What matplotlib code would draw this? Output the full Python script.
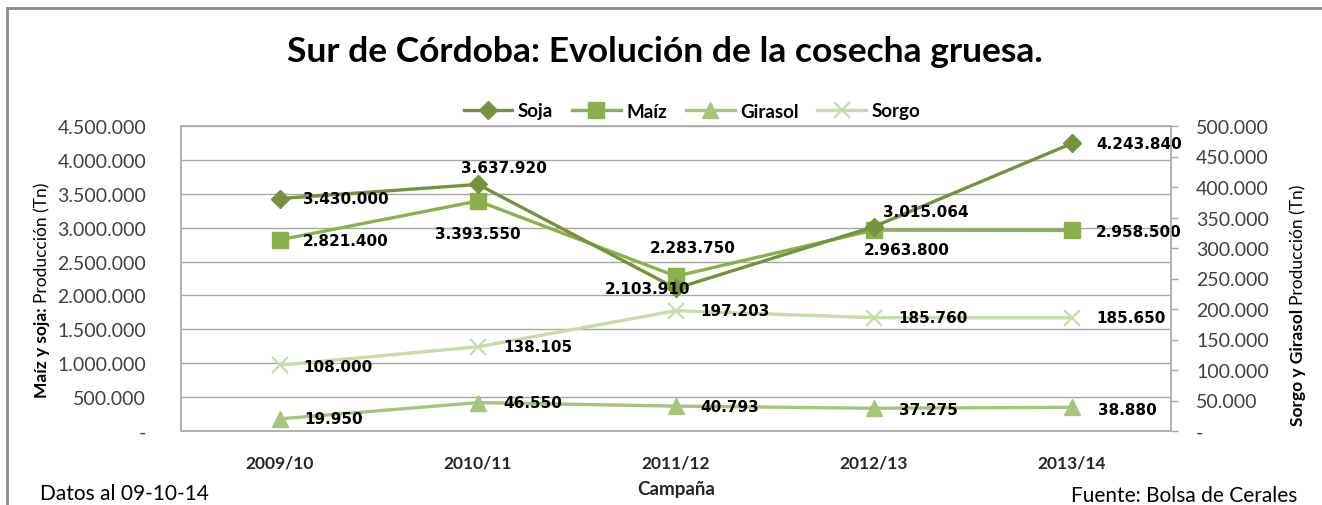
import matplotlib
matplotlib.use("Agg")
import matplotlib.pyplot as plt
from matplotlib.ticker import FuncFormatter, MultipleLocator
from matplotlib.patches import Rectangle

# =========================================================
# DATA
# =========================================================

campanas = ["2009/10", "2010/11", "2011/12", "2012/13", "2013/14"]

soja = [3430000, 3637920, 2103910, 3015064, 4243840]
maiz = [2821400, 3393550, 2283750, 2963800, 2958500]
girasol = [19950, 46550, 40793, 37275, 38880]
sorgo = [108000, 138105, 197203, 185760, 185650]

# =========================================================
# STYLE
# =========================================================

plt.rcParams["font.family"] = ["Lato", "DejaVu Sans"]

C_SOJA = "#76923C"
C_MAIZ = "#8DB04F"
C_GIRASOL = "#A8C47C"
C_SORGO = "#C8DBAC"
GRID = "#A6A6A6"
TXT = "#262626"

PX = 0.72  # points per pixel at dpi=100
W, H = 1322, 506


def fmt_miles(v, pos=None):
    if abs(v) < 1:
        return "-"
    return f"{v:,.0f}".replace(",", ".")


# label offsets (pixels) for each series point
off_soja = [(23, 0, "left"), (26, 17, "center"), (-29, 0, "center"), (52, 15, "center"), (24, 0, "left")]
off_maiz = [(23, -1, "left"), (0, -33, "center"), (17, 29, "center"), (33, -19, "center"), (24, -1, "left")]
off_sorgo = [(23, -1, "left"), (25, 0, "left"), (24, 0, "left"), (24, 0, "left"), (24, 0, "left")]
off_girasol = [(24, 0, "left"), (25, 0, "left"), (24, 0, "left"), (25, -1, "left"), (26, -2, "left")]

# =========================================================
# FIGURE
# =========================================================

fig = plt.figure(figsize=(W / 100, H / 100), dpi=100)
fig.patches.append(Rectangle((7 / W, -0.1), 1.2, 1 - 9 / H + 0.1,
                             transform=fig.transFigure, fill=False,
                             edgecolor="#8A8A8A", linewidth=2))

ax = fig.add_axes([181 / W, 1 - 432 / H, 990 / W, 305 / H])
ax2 = ax.twinx()

x = list(range(len(campanas)))

l1, = ax.plot(x, soja, color=C_SOJA, lw=2.4, marker="D", ms=9, label="Soja", zorder=4)
l2, = ax.plot(x, maiz, color=C_MAIZ, lw=2.4, marker="s", ms=11, label="Maíz", zorder=3)
l3, = ax2.plot(x, girasol, color=C_GIRASOL, lw=2.4, marker="^", ms=12, label="Girasol")
l4, = ax2.plot(x, sorgo, color=C_SORGO, lw=2.4, marker="x", ms=11, mew=1.6, label="Sorgo")

ax.set_xlim(-0.5, len(campanas) - 0.5)
ax.set_ylim(0, 4500000)
ax2.set_ylim(0, 500000)
ax.yaxis.set_major_locator(MultipleLocator(500000))
ax2.yaxis.set_major_locator(MultipleLocator(50000))
ax.yaxis.set_major_formatter(FuncFormatter(fmt_miles))
ax2.yaxis.set_major_formatter(FuncFormatter(fmt_miles))

ax.set_xticks(x)
ax.set_xticklabels(campanas, fontweight="bold", fontsize=12.5, color=TXT)
ax.tick_params(axis="x", length=0, pad=17)
ax.tick_params(axis="y", length=0, pad=25, labelsize=14, labelcolor="#404040")
ax2.tick_params(axis="y", length=5, width=1, color=GRID, pad=13, labelsize=14, labelcolor="#404040")

ax.grid(axis="y", color=GRID, lw=1)
ax.set_axisbelow(True)
for a in (ax, ax2):
    for s in a.spines.values():
        s.set_color("#B0B0B0")
        s.set_linewidth(1.2)

# axis titles: bold part + regular part, stacked along the rotated baseline
def titulo_eje(xpx, ypx_bottom, bold, regular):
    t1 = fig.text(xpx / W, 1 - ypx_bottom / H, bold, rotation=90, ha="center", va="bottom",
                  fontsize=12.5, fontweight="bold", color="black")
    ax.annotate(regular, xy=(0.5, 1), xycoords=t1, xytext=(0, 3), textcoords="offset points",
                rotation=90, ha="center", va="bottom",
                fontsize=12.5, color="black", annotation_clip=False)

titulo_eje(42, 398, "Maíz y soja:", "Producción (Tn)")
titulo_eje(1298, 426, "Sorgo y Girasol", "Producción (Tn)")

# data labels
def etiquetas(a, vals, offs):
    for i, (v, (dx, dy, ha)) in enumerate(zip(vals, offs)):
        a.annotate(fmt_miles(v), (i, v), xytext=(dx * PX, dy * PX), textcoords="offset points",
                   ha=ha, va="center", fontsize=11, fontweight="bold",
                   family="DejaVu Sans", color="black", zorder=6)

etiquetas(ax, soja, off_soja)
etiquetas(ax, maiz, off_maiz)
etiquetas(ax2, sorgo, off_sorgo)
etiquetas(ax2, girasol, off_girasol)

fig.legend(handles=[l1, l2, l3, l4], loc="center", bbox_to_anchor=(692 / W, 1 - 112 / H),
           ncol=4, frameon=False, prop={"weight": "bold", "size": 13.5}, handlelength=2.6,
           columnspacing=1.0, handletextpad=0.3)

fig.text(665 / W, 1 - 52 / H, "Sur de Córdoba: Evolución de la cosecha gruesa.",
         ha="center", va="center", fontsize=25.5, fontweight="bold", color="black")
fig.text(676 / W, 1 - 490 / H, "Campaña", ha="center", va="center",
         fontsize=13.5, fontweight="bold", color=TXT)
fig.text(40 / W, 1 - 494 / H, "Datos al 09-10-14", ha="left", va="center",
         fontsize=15, color="black")
fig.text(1297 / W, 1 - 496 / H, "Fuente: Bolsa de Cerales", ha="right", va="center",
         fontsize=15, color="black")

fig.savefig("out.png", dpi=100)
